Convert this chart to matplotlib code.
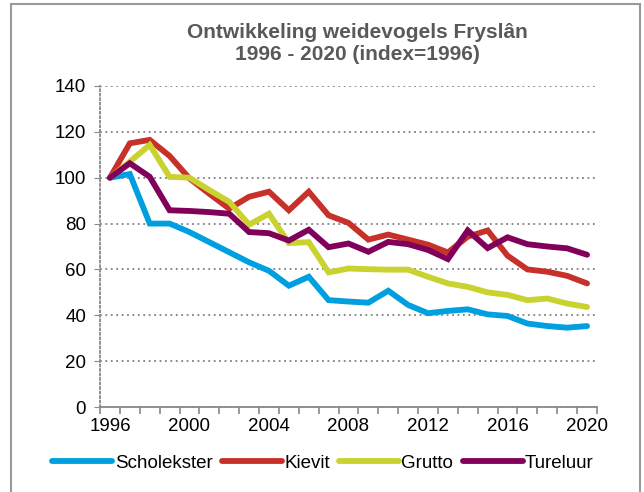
import numpy as np
import matplotlib
matplotlib.use("Agg")
import matplotlib.pyplot as plt
from matplotlib.patches import Rectangle

plt.rcParams['font.family'] = ['Liberation Sans', 'DejaVu Sans']

# data (index, 1996 = 100)
years = list(range(1996, 2021))
scholekster = [100, 101.6, 80, 80, 76.3, 71.9, 67.5, 63.1, 59.4, 52.9, 56.8, 46.6, 46.0,
               45.5, 50.7, 44.5, 40.9, 41.9, 42.6, 40.4, 39.7, 36.4, 35.3, 34.6, 35.3]
kievit = [100, 115, 116.5, 109.5, 99.7, 93, 86.5, 91.7, 93.9, 85.8, 93.9, 83.6, 80.3,
          73, 75.2, 73, 70.8, 67.4, 74.3, 77, 66, 60, 59, 57.2, 53.9]
grutto = [100, 107, 114.3, 100.4, 100, 94.6, 89.5, 79.5, 84.3, 71.5, 71.9, 58.7, 60.4,
          60.1, 59.9, 59.9, 56.8, 53.9, 52.4, 50, 48.9, 46.6, 47.3, 45.1, 43.6]
tureluur = [100, 106.3, 100.4, 85.8, 85.5, 85, 84.3, 76.3, 75.8, 72.6, 77.3, 69.7, 71.3,
            67.7, 72, 71, 68.5, 64.5, 77, 69.3, 74, 71, 70, 69.2, 66.4]

series = [("Scholekster", scholekster, "#00a0e0"),
          ("Kievit", kievit, "#c8312a"),
          ("Grutto", grutto, "#c9d22e"),
          ("Tureluur", tureluur, "#80005a")]

y_ticks = list(range(0, 141, 20))
x_labels = list(range(1996, 2021, 4))

fig = plt.figure(figsize=(6.44, 4.92), dpi=100)
ax = fig.add_axes([100 / 644, 1 - 407 / 492, 497 / 644, 321 / 492])

# outer frame of the chart
fig.patches.append(Rectangle((10.5 / 644, -0.05), 629.5 / 644, 1.05 - 4 / 492,
                             transform=fig.transFigure, fill=False,
                             edgecolor="#9a9a9a", linewidth=1.5))

for name, vals, col in series:
    ax.plot(years, vals, color=col, linewidth=4.2, label=name,
            solid_joinstyle="miter", solid_capstyle="round")

ax.set_xlim(1995.5, 2020.5)
ax.set_ylim(0, 140)
ax.set_yticks(y_ticks)
ax.set_xticks(x_labels)
ax.set_xticks(np.arange(1995.5, 2021, 1), minor=True)
ax.tick_params(axis="x", which="major", length=0, pad=8, labelsize=13.5)
ax.tick_params(axis="x", which="minor", length=5, color="#888888", width=1.2)
ax.tick_params(axis="y", length=4, color="#888888", labelsize=13.5, pad=6)

ax.grid(axis="y", linestyle=(0, (1, 2)), color="#808080", linewidth=1.3)
ax.set_axisbelow(True)
for s in ["top", "right"]:
    ax.spines[s].set_visible(False)
ax.spines["left"].set_linestyle((0, (1, 1.5)))
ax.spines["left"].set_color("#888888")
ax.spines["left"].set_linewidth(1.3)
ax.spines["bottom"].set_color("#888888")
ax.spines["bottom"].set_linewidth(1.3)

fig.text(357 / 644, 1 - 43 / 492, "Ontwikkeling weidevogels Fryslân\n1996 - 2020 (index=1996)",
         ha="center", va="center", fontsize=15, fontweight="bold", color="#595959",
         linespacing=1.2)

fig.legend(loc="center", bbox_to_anchor=(323 / 644, 1 - 463 / 492), ncol=4, frameon=False,
           fontsize=13.5, handlelength=3.2, handletextpad=0.12, columnspacing=0.5)

fig.savefig("out.png", dpi=100)
